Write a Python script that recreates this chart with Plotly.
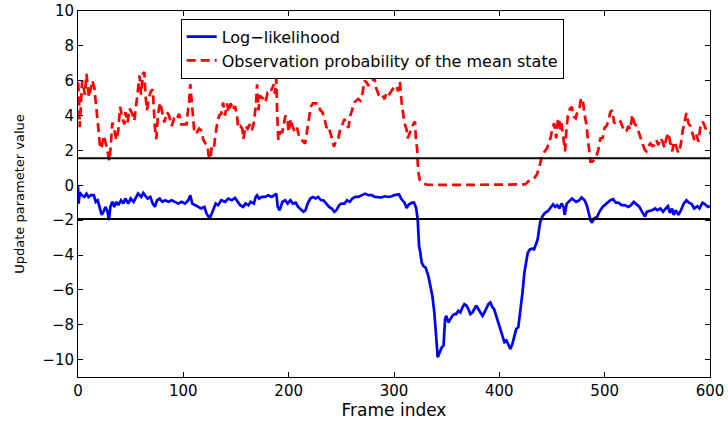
import plotly.graph_objects as go

# ---- data ----
ll_frames = [0, 0.6, 1.6, 3.5, 6, 8, 10, 12.3, 15, 16.8, 18.7, 20.6, 22.5, 24.4, 26, 28, 29.4, 30.7, 32.6, 34.5,
             36.4, 38.3, 40.8, 43, 45, 47.8, 50, 52.8, 55, 57, 60, 62, 63.6, 66, 68.7, 71, 73, 75, 77.5, 80,
             82.6, 85.8, 89, 92, 95, 98.4, 101.6, 104.7, 106.6, 108.5, 111, 114, 117, 120, 122, 124, 125, 127, 129, 130.7,
             133, 136, 139.6, 142.7, 146, 149, 152, 154, 156.7, 159, 161.8, 164, 167, 168.7, 170, 172, 174.4, 177.6, 180.7, 184,
             186.4, 188.3, 189.6, 191.5, 194, 196.6, 199, 201.6, 204, 206.7, 209, 211.8, 214, 216, 218, 220.6, 223, 225.7, 228, 230.7,
             233, 235.8, 238.3, 240.9, 243.4, 245.3, 248, 250, 253, 255.4, 258, 260.5, 263, 266, 269, 272.5, 275.7, 279, 282, 285,
             288, 291.5, 294.7, 298, 301, 304.8, 307.3, 310, 312, 314, 317, 319, 321, 322.5, 323.8, 325, 326.3, 328, 330, 332.6,
             334.5, 336.4, 338.3, 340, 341.5, 343.4, 345.3, 347, 348.5, 349.7, 351.6, 353.5, 355.4, 357.3, 359, 361, 363, 365, 366.8, 368.7,
             370.6, 372.5, 374.4, 376.3, 378, 380, 382, 384, 385.8, 387.7, 389.6, 391.5, 393.4, 395, 397, 399, 401, 403, 404.8, 406.7,
             408.6, 410.5, 412.4, 414.3, 416, 418, 420, 422, 423.8, 425.7, 427, 429, 430.7, 433, 435, 436.4, 437.7, 439, 441, 443.4,
             446, 448.5, 451, 453, 455, 457, 459, 461, 462, 464, 467, 469, 471, 473, 476, 478, 481, 483, 485, 486.5,
             488, 490, 493, 495, 498, 500, 503, 505.4, 508, 510.5, 513, 516, 519, 522.5, 525, 527.6, 530, 533, 535, 536.5,
             538.3, 540, 543, 545, 548, 550, 553, 555.4, 558, 560, 562, 564, 565.6, 567.5, 570, 572.5, 575, 577.6, 580, 582.6,
             585, 588, 590, 593, 595, 598, 600]
ll_values = [-0.05, -1.05, -0.4, -0.57, -0.67, -0.48, -0.67, -0.57, -0.57, -0.95, -0.86, -1.33, -1.7, -1.5, -1.24, -1.5, -2.0, -1.24, -0.95, -1.24,
             -0.95, -1.14, -0.86, -1.05, -0.76, -1.05, -0.76, -0.95, -0.67, -0.48, -0.67, -0.44, -0.57, -0.76, -0.67, -1.05, -1.24, -0.86, -0.76, -0.95,
             -0.86, -0.95, -0.86, -0.95, -1.05, -0.95, -1.05, -0.86, -0.57, -1.05, -1.14, -1.24, -1.33, -1.24, -1.62, -1.8, -1.9, -1.62, -1.24, -1.05,
             -1.14, -0.86, -0.95, -0.76, -0.86, -0.72, -0.98, -1.14, -1.24, -1.05, -1.14, -0.95, -1.05, -0.67, -0.57, -0.76, -0.67, -0.67, -0.57, -0.67,
             -0.57, -0.48, -1.24, -1.43, -0.95, -0.86, -1.05, -0.86, -1.05, -1.0, -1.24, -1.43, -1.52, -1.43, -1.05, -0.76, -0.67, -0.76, -0.67, -0.86,
             -0.86, -1.05, -1.24, -1.33, -1.52, -1.43, -1.14, -1.05, -1.05, -0.86, -0.95, -0.76, -0.67, -0.67, -0.57, -0.48, -0.57, -0.57, -0.67, -0.67,
             -0.7, -0.63, -0.67, -0.63, -0.55, -0.53, -0.82, -1.0, -1.3, -1.1, -1.0, -1.0, -1.3, -1.96, -3.49, -3.87, -4.44, -4.63, -4.72, -5.2,
             -5.77, -6.34, -7.3, -8.82, -9.87, -9.58, -9.3, -9.2, -7.68, -7.49, -7.87, -7.68, -7.49, -7.39, -7.39, -7.2, -7.3, -7.0, -6.82, -6.9,
             -7.1, -7.39, -7.3, -7.1, -6.9, -7.1, -7.3, -7.49, -7.3, -7.1, -6.82, -6.72, -7.0, -7.1, -7.49, -7.77, -8.15, -8.63, -9.0, -8.9,
             -9.2, -9.39, -9.1, -8.63, -8.25, -8.15, -7.3, -6.15, -5.0, -4.25, -3.87, -3.68, -3.64, -3.68, -3.3, -3.1, -2.53, -2.06, -1.77, -1.58,
             -1.49, -1.3, -1.1, -1.24, -1.14, -1.33, -1.05, -1.24, -1.7, -1.05, -0.86, -0.76, -0.86, -0.95, -0.86, -0.7, -0.86, -1.14, -1.62, -2.0,
             -2.15, -1.9, -1.8, -1.52, -1.24, -1.14, -0.95, -0.86, -0.8, -1.0, -1.0, -1.14, -1.14, -1.24, -1.14, -0.95, -1.08, -1.24, -1.47, -1.62,
             -1.8, -1.52, -1.47, -1.43, -1.33, -1.43, -1.33, -1.52, -1.33, -1.2, -1.58, -1.33, -1.7, -1.43, -1.7, -1.43, -1.05, -0.86, -1.0, -1.08,
             -1.33, -1.2, -1.33, -1.0, -1.08, -1.24, -1.2]

obs_frames = [0, 1, 1.6, 3, 4, 5.4, 6.6, 8, 9, 10.4, 11.7, 13.6, 15.5, 16.8, 18, 18.7, 20, 21, 22.5, 24.4,
              25.6, 27.2, 28.8, 30, 31, 32.6, 34.5, 36.4, 38.3, 40, 42, 44, 45, 47, 49, 51.6, 53.5, 56, 57, 58.5,
              59.8, 61.7, 63, 64, 65.5, 67.4, 69.3, 71, 73, 74.4, 76, 78, 80, 82, 84.5, 86.4, 89, 91, 93, 96,
              98, 100, 103, 104, 105.4, 106.6, 108, 109, 110.4, 112, 115, 117, 119, 121, 123, 124, 125.6, 127, 129, 130,
              132, 134, 136, 137.7, 139.6, 141.5, 143, 145, 147, 149, 151, 152, 154, 156, 157, 159, 161, 163, 165, 167,
              169, 170, 171.3, 172.5, 174.4, 176.3, 178, 180, 182, 184, 186, 187, 188.3, 189, 189.6, 190.2, 192, 194, 196, 197,
              199, 200, 202, 204, 206, 208, 210, 212, 214, 215.6, 217.5, 219, 221, 223, 225.7, 228, 230, 232, 234, 236,
              237.7, 239.6, 241.5, 243, 245, 247, 249, 251, 253, 255, 256.7, 258.6, 260.5, 262.4, 264, 266, 268, 270, 272, 274,
              275.7, 277.6, 279.5, 281.4, 283, 285, 287, 289, 291, 292.8, 294.7, 296.6, 298.5, 300.4, 302, 304, 305.6, 307.3, 308.6, 310,
              312, 313, 315, 317, 318.7, 320, 320.6, 322, 322.5, 323, 324.4, 327, 331, 340, 360, 380, 400, 420, 424.4, 427.6,
              432, 435.5, 437.7, 440, 443, 445.3, 447, 449, 450, 452, 454, 455.4, 456.7, 458, 459, 461, 462.4, 463.7, 465, 467,
              468.7, 470.6, 472.5, 474.4, 476.3, 477.6, 479.5, 480.7, 482.6, 484, 485, 486.5, 488.3, 490, 492, 494, 496, 498, 500, 501.6,
              503.5, 505.4, 507.3, 509, 511, 513, 515, 517, 518.7, 520.6, 522.5, 524.4, 526.3, 528.2, 530, 532, 534, 536, 538, 539.6,
              541.5, 543.4, 545.3, 547, 549, 551, 553, 555, 556.7, 558.6, 560.5, 562.4, 564.3, 565.6, 567.5, 570, 572, 574, 575.7, 577.6,
              579.5, 581.4, 583.3, 585, 587, 589, 591, 593, 595, 596.6, 598.5, 600]
obs_values = [5.9, 5.05, 3.33, 5.4, 6.0, 5.6, 5.2, 6.4, 5.7, 5.05, 5.4, 6.0, 5.6, 4.85, 4.3, 3.6, 2.85, 2.1, 2.2, 2.85,
              2.6, 2.2, 1.7, 1.4, 2.2, 3.6, 3.15, 2.6, 3.2, 4.5, 3.9, 3.5, 4.2, 3.6, 4.4, 4.1, 3.7, 4.85, 5.6, 6.3,
              5.2, 6.4, 6.5, 5.2, 4.3, 5.05, 5.4, 5.5, 3.3, 2.65, 4.1, 4.75, 4.2, 3.6, 4.2, 4.0, 3.4, 3.8, 3.7, 4.1,
              3.5, 3.5, 3.5, 4.1, 4.7, 5.8, 4.7, 3.8, 3.05, 2.95, 3.25, 3.15, 2.6, 2.4, 2.3, 1.7, 1.5, 2.2, 2.1, 2.65,
              3.5, 4.0, 4.1, 4.75, 4.0, 4.7, 4.2, 4.7, 4.3, 4.55, 4.0, 3.3, 3.4, 3.25, 2.65, 3.4, 3.25, 3.5, 3.15, 3.6,
              4.7, 5.8, 4.3, 5.15, 5.05, 4.95, 4.75, 5.3, 5.25, 5.5, 5.8, 5.25, 6.1, 4.3, 3.15, 2.6, 3.05, 3.05, 3.7, 4.0,
              3.7, 3.05, 3.8, 3.3, 3.05, 3.3, 2.75, 2.6, 2.5, 2.4, 3.15, 3.9, 4.5, 4.7, 4.7, 4.7, 4.3, 4.2, 3.8, 3.3,
              3.4, 3.05, 2.6, 2.2, 2.6, 2.65, 3.25, 3.5, 3.8, 3.5, 3.3, 4.0, 4.4, 4.75, 4.85, 4.95, 4.85, 5.25, 6.0, 5.9,
              5.7, 5.9, 6.0, 6.2, 5.6, 5.25, 5.05, 5.15, 4.95, 5.3, 5.15, 5.3, 5.5, 5.7, 5.7, 5.4, 5.94, 4.7, 4.23, 3.56,
              3.2, 2.7, 3.0, 3.37, 3.56, 3.66, 2.8, 2.04, 1.37, 0.8, 0.32, 0.13, 0.04, 0.02, 0.02, 0.02, 0.02, 0.03, 0.05, 0.23,
              0.32, 0.6, 0.99, 1.56, 1.94, 2.13, 2.42, 2.8, 3.18, 3.56, 2.7, 3.66, 3.85, 3.2, 3.56, 2.5, 1.95, 3.2, 3.95, 4.4,
              4.5, 3.95, 3.85, 4.3, 4.5, 5.0, 4.8, 4.15, 3.5, 2.7, 2.1, 1.35, 1.35, 1.45, 1.65, 2.05, 2.7, 2.7, 3.3, 3.4,
              3.65, 4.2, 4.3, 3.56, 3.66, 3.56, 3.66, 3.4, 3.1, 3.1, 3.4, 3.2, 4.05, 3.56, 3.4, 3.1, 2.7, 2.3, 2.04, 1.95,
              2.25, 2.4, 2.25, 2.3, 2.6, 2.3, 2.7, 2.5, 2.15, 2.7, 3.0, 2.4, 1.95, 2.5, 2.3, 1.85, 2.25, 3.1, 3.65, 4.15,
              3.56, 3.4, 3.0, 2.6, 2.9, 2.5, 3.4, 3.65, 3.4, 3.1, 3.0, 3.0]

thresholds = [1.55, -1.93]
x_ticks = [0, 100, 200, 300, 400, 500, 600]
y_ticks = [-10, -8, -6, -4, -2, 0, 2, 4, 6, 8, 10]

FONT = "DejaVu Sans"

fig = go.Figure()
fig.add_trace(go.Scatter(x=ll_frames, y=ll_values, mode="lines", name="Log\u2212likelihood",
                         line=dict(color="#0000ff", width=2.7)))
fig.add_trace(go.Scatter(x=obs_frames, y=obs_values, mode="lines",
                         name="Observation probability of the mean state",
                         line=dict(color="#ff0000", width=2.7, dash="9px,5px")))

for t in thresholds:
    fig.add_shape(type="line", xref="paper", x0=0, x1=1, yref="y", y0=t, y1=t,
                  line=dict(color="black", width=2))

axis_common = dict(showgrid=False, zeroline=False, showline=True, linecolor="black", linewidth=1,
                   mirror="ticks", ticks="inside", ticklen=5, tickcolor="black", automargin=False,
                   tickfont=dict(family=FONT, size=15, color="black"))

fig.update_layout(
    width=728, height=421,
    margin=dict(l=78, r=18, t=11, b=44),
    paper_bgcolor="white", plot_bgcolor="white",
    font=dict(family=FONT, color="black"),
    xaxis=dict(range=[0, 600], tickvals=x_ticks, ticktext=[str(v) for v in x_ticks],
               title=dict(text="Frame index", font=dict(family=FONT, size=17), standoff=4),
               **axis_common),
    yaxis=dict(range=[-11, 10], tickvals=y_ticks,
               title=dict(text="Update parameter value", font=dict(family=FONT, size=13), standoff=14),
               **axis_common),
    legend=dict(x=0.1625, y=0.979, xanchor="left", yanchor="top",
                bordercolor="black", borderwidth=1, bgcolor="white",
                font=dict(family=FONT, size=16, color="black"),
                itemwidth=30, tracegroupgap=0),
    showlegend=True,
)

# remove the browser's default page margin so the 728x421 figure fills the window exactly
fig.write_html("out.html",
               config={"displayModeBar": False},
               post_script="document.body.style.margin='0';document.body.style.padding='0';")
